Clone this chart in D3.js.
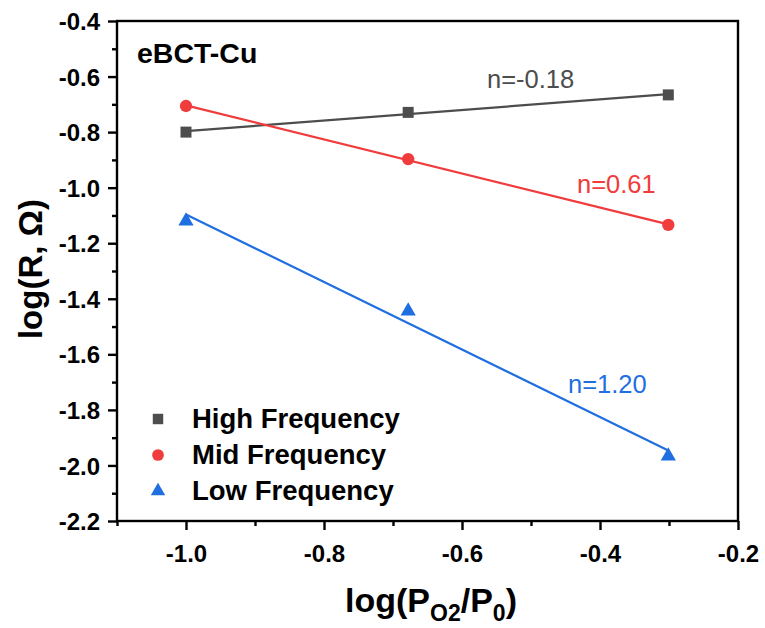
<!DOCTYPE html>
<html>
<head>
<meta charset="utf-8">
<script src="https://cdn.jsdelivr.net/npm/d3@7"></script>
<style>
  body { margin: 0; background: #fff; }
  text { font-family: Arial, "Liberation Sans", sans-serif; }
</style>
</head>
<body>
<script>
// data
var xValues = [-1.0, -0.678, -0.301];
var highFreq = [-0.800, -0.729, -0.666];
var midFreq = [-0.706, -0.897, -1.134];
var lowFreq = [-1.120, -1.444, -1.966];
var seriesNames = ["High Frequency", "Mid Frequency", "Low Frequency"];
var seriesColors = ["#4d4d4d", "#f03c3c", "#1f6fe0"];
var slopeLabels = ["n=-0.18", "n=0.61", "n=1.20"];
var xTicks = [-1.0, -0.8, -0.6, -0.4, -0.2];
var yTicks = [-2.2, -2.0, -1.8, -1.6, -1.4, -1.2, -1.0, -0.8, -0.6, -0.4];

var width = 765, height = 628;
var margin = {left: 117, right: 27, top: 21, bottom: 107};
var font = "Arial, 'Liberation Sans', sans-serif";

var svg = d3.select("body").append("svg")
    .attr("width", width)
    .attr("height", height);

var xScale = d3.scaleLinear().domain([-1.1, -0.2]).range([margin.left, width - margin.right]);
var yScale = d3.scaleLinear().domain([-2.2, -0.4]).range([height - margin.bottom, margin.top]);

// plain hyphen instead of unicode minus, like the original
var fmt = function(d) { return d3.format(".1f")(d).replace("\u2212", "-"); };

// frame
svg.append("rect")
    .attr("x", margin.left).attr("y", margin.top)
    .attr("width", width - margin.left - margin.right)
    .attr("height", height - margin.top - margin.bottom)
    .attr("fill", "none").attr("stroke", "#000").attr("stroke-width", 2.4);

// major and minor ticks
var xMinor = d3.range(-1.1, -0.2, 0.2).map(function(d) { return +d.toFixed(2); });
var yMinor = d3.range(-2.1, -0.4, 0.2).map(function(d) { return +d.toFixed(2); });

var xAxis = svg.append("g")
    .attr("transform", "translate(0," + (height - margin.bottom) + ")")
    .call(d3.axisBottom(xScale).tickValues(xTicks).tickSize(9).tickPadding(10).tickFormat(fmt));
var xAxisMinor = svg.append("g")
    .attr("transform", "translate(0," + (height - margin.bottom) + ")")
    .call(d3.axisBottom(xScale).tickValues(xMinor).tickSize(5).tickFormat(""));
var yAxis = svg.append("g")
    .attr("transform", "translate(" + margin.left + ",0)")
    .call(d3.axisLeft(yScale).tickValues(yTicks).tickSize(9).tickPadding(8).tickFormat(fmt));
var yAxisMinor = svg.append("g")
    .attr("transform", "translate(" + margin.left + ",0)")
    .call(d3.axisLeft(yScale).tickValues(yMinor).tickSize(5).tickFormat(""));

[xAxis, xAxisMinor, yAxis, yAxisMinor].forEach(function(g) {
  g.select(".domain").remove();
  g.selectAll("line").attr("stroke", "#000").attr("stroke-width", 2.4);
  g.selectAll("text")
    .attr("fill", "#000")
    .style("font-size", "24px")
    .style("font-weight", "bold")
    .style("font-family", font);
});
xAxis.selectAll("text").attr("dy", "0.92em");
yAxis.selectAll("text").attr("dy", "0.36em");

// series
var allSeries = [highFreq, midFreq, lowFreq];

// least squares fit lines
function fit(ys) {
  var mx = d3.mean(xValues), my = d3.mean(ys);
  var num = d3.sum(xValues, function(x, i) { return (x - mx) * (ys[i] - my); });
  var den = d3.sum(xValues, function(x) { return (x - mx) * (x - mx); });
  var b = num / den;
  return {b: b, a: my - b * mx};
}

allSeries.forEach(function(ys, s) {
  var f = fit(ys);
  var x0 = d3.min(xValues), x1 = d3.max(xValues);
  svg.append("line")
      .attr("x1", xScale(x0)).attr("y1", yScale(f.a + f.b * x0))
      .attr("x2", xScale(x1)).attr("y2", yScale(f.a + f.b * x1))
      .attr("stroke", seriesColors[s]).attr("stroke-width", 2.2);
});

var symbols = [d3.symbolSquare, d3.symbolCircle, d3.symbolTriangle];
var symbolSizes = [121, 120, 100];

allSeries.forEach(function(ys, s) {
  svg.selectAll(".pt" + s)
      .data(ys)
      .enter()
      .append("path")
      .attr("d", d3.symbol().type(symbols[s]).size(symbolSizes[s]))
      .attr("transform", function(d, i) {
        return "translate(" + xScale(xValues[i]) + "," + yScale(d) + ")";
      })
      .attr("fill", seriesColors[s]);
});

// slope labels
var labelPos = [[487, 88], [577, 193], [568, 393]];
slopeLabels.forEach(function(t, s) {
  svg.append("text")
      .attr("x", labelPos[s][0]).attr("y", labelPos[s][1])
      .attr("fill", seriesColors[s])
      .style("font-size", "25.5px")
      .text(t);
});

// sample label
svg.append("text")
    .attr("x", 137).attr("y", 63)
    .style("font-size", "28.5px").style("font-weight", "bold")
    .text("eBCT-Cu");

// legend
var legendY = [419, 455, 491];
seriesNames.forEach(function(name, s) {
  svg.append("path")
      .attr("d", d3.symbol().type(symbols[s]).size(symbolSizes[s] * 0.9))
      .attr("transform", "translate(158," + legendY[s] + ")")
      .attr("fill", seriesColors[s]);
  svg.append("text")
      .attr("x", 192).attr("y", legendY[s] + 9)
      .style("font-size", "27.5px").style("font-weight", "bold")
      .text(name);
});

// axis titles
svg.append("text")
    .attr("transform", "translate(42,269) rotate(-90)")
    .attr("text-anchor", "middle")
    .style("font-size", "33px").style("font-weight", "bold")
    .text("log(R, \u03A9)");

var xTitle = svg.append("text")
    .attr("x", 431)
    .attr("y", 612)
    .attr("text-anchor", "middle")
    .style("font-size", "34px").style("font-weight", "bold");
xTitle.append("tspan").text("log(P");
xTitle.append("tspan").attr("dy", 9).style("font-size", "23px").text("O2");
xTitle.append("tspan").attr("dy", -9).text("/P");
xTitle.append("tspan").attr("dy", 9).style("font-size", "23px").text("0");
xTitle.append("tspan").attr("dy", -9).text(")");
</script>
</body>
</html>
